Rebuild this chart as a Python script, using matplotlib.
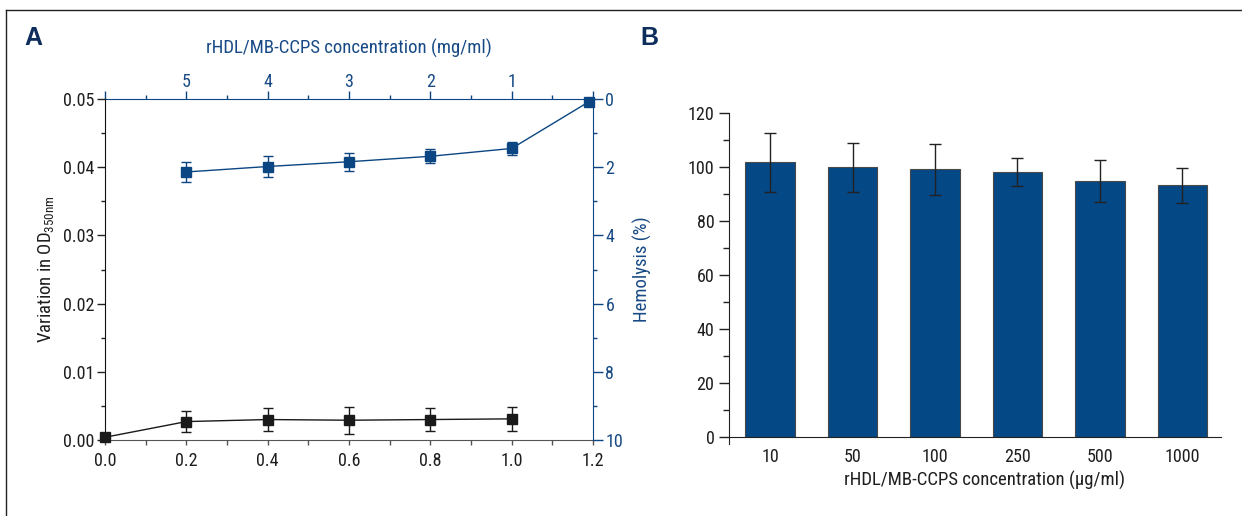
import matplotlib
matplotlib.use("Agg")
import matplotlib.pyplot as plt
from matplotlib.ticker import MultipleLocator
from matplotlib.lines import Line2D
from matplotlib import font_manager as fm
import numpy as np

# choose a condensed font if available
_names = {f.name for f in fm.fontManager.ttflist}
FAM = ['DejaVu Sans']
for cand in ['Roboto Condensed', 'Open Sans Condensed', 'Liberation Sans Narrow']:
    if cand in _names:
        FAM = [cand, 'DejaVu Sans']
        break
plt.rcParams['font.family'] = FAM

# ---- Panel A data ----
od_x = [0.0, 0.2, 0.4, 0.6, 0.8, 1.0]
od_y = [0.0004, 0.0027, 0.0030, 0.0029, 0.0030, 0.0031]
od_err = [0.0, 0.0016, 0.0017, 0.0020, 0.0017, 0.0018]

hem_x = [0.2, 0.4, 0.6, 0.8, 1.0, 1.19]
hem_y = [2.14, 1.98, 1.84, 1.68, 1.45, 0.08]
hem_err = [0.28, 0.32, 0.27, 0.21, 0.20, 0.0]

top_tick_pos = [0.0, 0.2, 0.4, 0.6, 0.8, 1.0, 1.2]
top_tick_labels = ['', '5', '4', '3', '2', '1', '']

# ---- Panel B data ----
conc_labels = ['10', '50', '100', '250', '500', '1000']
hem_pct = [101.7, 99.9, 99.1, 98.2, 94.8, 93.2]
hem_pct_err = [11.0, 9.0, 9.3, 5.2, 7.9, 6.6]

BLUE = '#0b4682'
BAR = '#044885'
DARK = '#1e1e1e'
TICKBLUE = '#174a85'
FS = 13

W, H = 1242, 516
fig = plt.figure(figsize=(W / 100, H / 100), dpi=100)

# frame lines
fig.add_artist(Line2D([6 / W, 1], [1 - 10 / H, 1 - 10 / H], color='#222222', lw=1.0))
fig.add_artist(Line2D([6 / W, 6 / W], [0, 1 - 10 / H], color='#222222', lw=1.0))

# ---------------- Panel A ----------------
l, r, t, b = 105, 593, 99, 440
ax1 = fig.add_axes([l / W, 1 - b / H, (r - l) / W, (b - t) / H])
ax1.set_xlim(0, 1.2)
ax1.set_ylim(0, 0.05)
ax1.errorbar(od_x, od_y, yerr=od_err, color='#1a1a1a', marker='s', markersize=7,
             lw=1.0, capsize=3.5, elinewidth=1.0, capthick=1.0, clip_on=False, zorder=3)
ax1.spines['top'].set_visible(False)
ax1.spines['right'].set_visible(False)
ax1.spines['left'].set_color('#111111')
ax1.spines['bottom'].set_color('#555555')
ax1.set_xticks(np.arange(0, 1.21, 0.2))
ax1.set_xticklabels(['0.0', '0.2', '0.4', '0.6', '0.8', '1.0', '1.2'])
ax1.xaxis.set_minor_locator(MultipleLocator(0.1))
ax1.set_yticks(np.arange(0, 0.051, 0.01))
ax1.set_yticklabels(['0.00', '0.01', '0.02', '0.03', '0.04', '0.05'])
ax1.yaxis.set_minor_locator(MultipleLocator(0.005))
ax1.tick_params(axis='x', which='both', direction='out', length=3.5, width=1, color='#555555',
                labelsize=FS, labelcolor=DARK, pad=5)
ax1.tick_params(axis='y', which='major', direction='out', length=5.5, width=1, color='#222222',
                labelsize=FS, labelcolor=DARK, pad=2)
ax1.tick_params(axis='y', which='minor', direction='out', length=3, width=1, color='#222222')
ax1.set_ylabel('Variation in OD$_{\\mathregular{350nm}}$', fontsize=FS + 0.5, color=DARK)
ax1.yaxis.set_label_coords(-0.099, 0.5)

ax2 = ax1.twinx()
ax2.set_ylim(10, 0)
ax2.errorbar(hem_x, hem_y, yerr=hem_err, color=BLUE, marker='s', markersize=7,
             lw=1.0, capsize=3.5, elinewidth=1.0, capthick=1.0, clip_on=False, zorder=3)
for s in ['left', 'top', 'bottom']:
    ax2.spines[s].set_visible(False)
ax2.spines['right'].set_color(BLUE)
ax2.set_yticks([0, 2, 4, 6, 8, 10])
ax2.yaxis.set_minor_locator(MultipleLocator(1))
ax2.tick_params(axis='y', which='major', direction='out', length=7, width=1, color=BLUE,
                labelsize=FS, labelcolor=TICKBLUE, pad=2)
ax2.tick_params(axis='y', which='minor', direction='out', length=3, width=1, color=BLUE)
ax2.set_ylabel('Hemolysis (%)', fontsize=FS + 0.5, color=TICKBLUE)
ax2.yaxis.set_label_coords(1.082, 0.5)

axt = ax1.secondary_xaxis('top')
axt.set_xticks(top_tick_pos)
axt.set_xticklabels(top_tick_labels)
axt.xaxis.set_minor_locator(MultipleLocator(0.1))
axt.spines['top'].set_color(BLUE)
axt.tick_params(axis='x', which='major', direction='out', length=5.5, width=1, color=BLUE,
                labelsize=FS, labelcolor=TICKBLUE, pad=0)
axt.tick_params(axis='x', which='minor', direction='out', length=3, width=1, color=BLUE)
axt.set_xlabel('rHDL/MB-CCPS concentration (mg/ml)', fontsize=FS + 0.5, color=TICKBLUE, labelpad=14)

fig.text(24 / W, 1 - 45 / H, 'A', fontsize=18, fontweight='bold', color='#0d2d5c',
         family=['Liberation Sans', 'DejaVu Sans'])

# ---------------- Panel B ----------------
l, r, t, b = 729, 1221, 113, 437
ax4 = fig.add_axes([l / W, 1 - b / H, (r - l) / W, (b - t) / H])
xpos = np.arange(len(conc_labels))
ax4.bar(xpos, hem_pct, width=0.6, color=BAR, edgecolor='#4a4a4a', linewidth=0.8, zorder=2)
ax4.errorbar(xpos, hem_pct, yerr=hem_pct_err, fmt='none', ecolor='#222222', elinewidth=1.0,
             capsize=4, capthick=1.0, zorder=3)
ax4.set_xlim(-0.5, 5.47)
ax4.set_ylim(0, 120)
ax4.set_xticks(xpos)
ax4.set_xticklabels(conc_labels)
ax4.set_yticks(np.arange(0, 121, 20))
ax4.yaxis.set_minor_locator(MultipleLocator(10))
ax4.spines['top'].set_visible(False)
ax4.spines['right'].set_visible(False)
ax4.spines['left'].set_color('#222222')
ax4.spines['bottom'].set_color('#222222')
ax4.spines['left'].set_bounds(-2.5, 120)
ax4.tick_params(axis='x', which='both', length=0, labelsize=FS, labelcolor=DARK, pad=8)
ax4.tick_params(axis='y', which='major', direction='out', length=7.5, width=1, color='#222222',
                labelsize=FS, labelcolor=DARK, pad=3)
ax4.tick_params(axis='y', which='minor', direction='out', length=4, width=1, color='#222222')
ax4.set_xlabel('rHDL/MB-CCPS concentration (\u00b5g/ml)', fontsize=FS + 0.5, color=DARK)
ax4.xaxis.set_label_coords(0.52, -0.103)

fig.text(640 / W, 1 - 45 / H, 'B', fontsize=18, fontweight='bold', color='#0d2d5c',
         family=['Liberation Sans', 'DejaVu Sans'])

fig.savefig('out.png', dpi=100)
